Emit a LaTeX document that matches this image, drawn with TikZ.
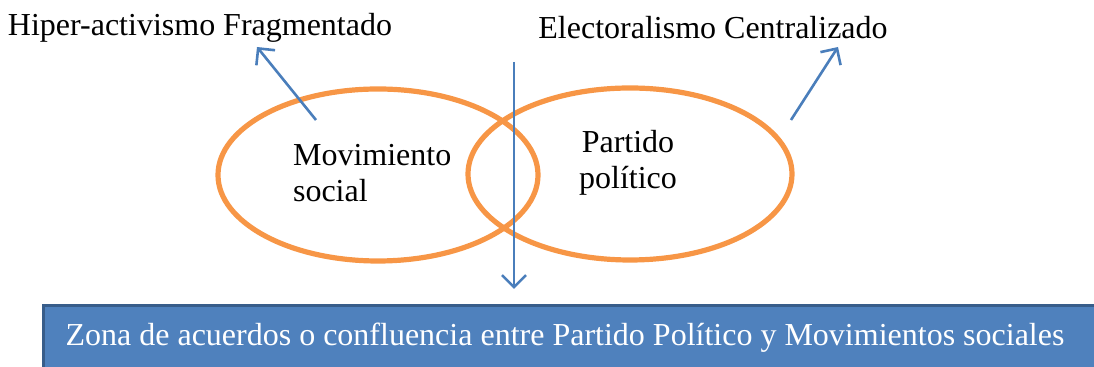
\documentclass[tikz,border=0pt]{standalone}
\usepackage{fontspec}
\setmainfont{Liberation Serif}
\usetikzlibrary{arrows.meta,shapes.geometric}
\definecolor{naranja}{HTML}{F79646}
\definecolor{azul}{HTML}{4A7EBB}
\definecolor{cajaazul}{HTML}{4F81BD}
\definecolor{bordeazul}{HTML}{385D8A}

\begin{document}
\begin{tikzpicture}[x=0.5pt,y=-0.5pt]
\tikzstyle{every node}=[font=\fontsize{16}{18}\selectfont]
\tikzstyle{circulo}=[ellipse, draw=naranja, line width=2.6pt, inner sep=0pt]
\tikzstyle{flecha}=[draw=azul, line width=1.3pt, -{Straight Barb[length=6pt,width=12pt]}]
\useasboundingbox (0,0) rectangle (1094,367);
%\draw [red!40](0,0) grid[step=50] (1094,367);

\node (MS) [circulo, minimum width=160pt, minimum height=86pt] at (378,175) {};
\node (PP) [circulo, minimum width=162pt, minimum height=86pt] at (630,174) {};
\node (MStxt) [anchor=west, align=left] at (286,173) {Movimiento\\social};
\node (PPtxt) [align=center] at (628,163) {Partido\\político};

\node (HA) at (200,28) {Hiper-activismo Fragmentado};
\node (EC) at (713,28) {Electoralismo Centralizado};

\node (Zona) [fill=cajaazul, draw=bordeazul, line width=1.5pt, text=white,
  minimum width=530pt, minimum height=34pt, anchor=north west] at (42,304) {};
\node (Zonatxt) [text=white] at (565,338)
  {Zona de acuerdos o confluencia entre Partido Político y Movimientos sociales};

\coordinate (a1) at (316,120);
\coordinate (a2) at (257,47);
\coordinate (b1) at (791,120);
\coordinate (b2) at (838,47);
\coordinate (c1) at (514,62);
\coordinate (c2) at (514,289);
\draw [flecha] (a1) -- (a2);
\draw [flecha] (b1) -- (b2);
\draw [flecha] (c1) -- (c2);
\end{tikzpicture}
\end{document}
